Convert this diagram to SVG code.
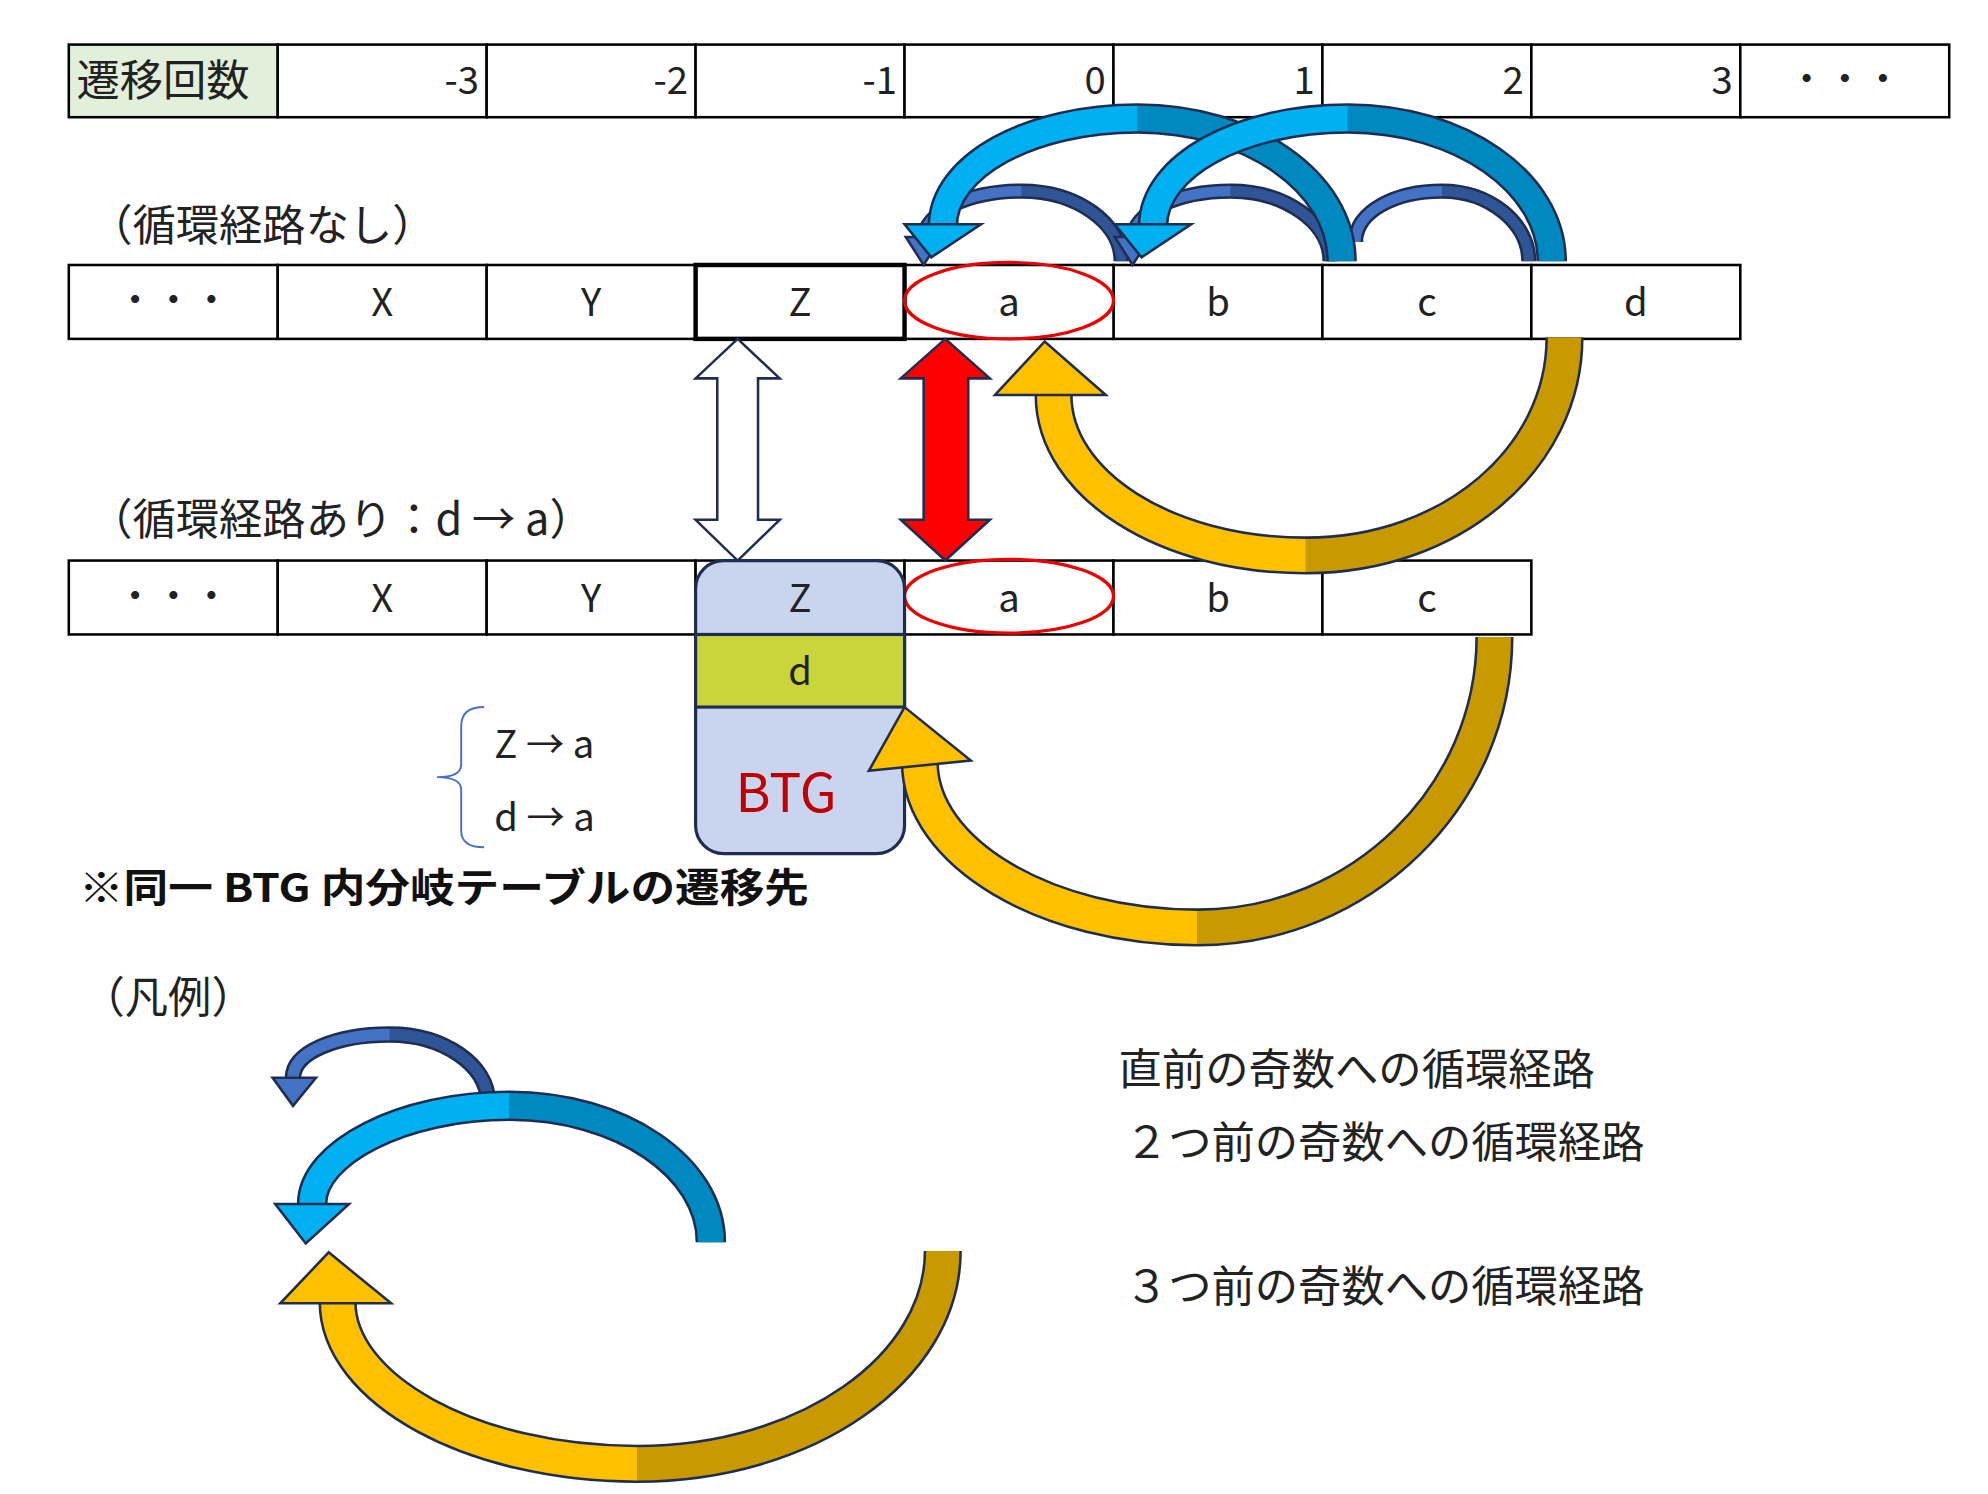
<svg xmlns="http://www.w3.org/2000/svg" width="1988" height="1494" viewBox="0 0 1988 1494">
<style>
.c{fill:#fff;stroke:#000;stroke-width:2}
.t{font-family:"Noto Sans CJK JP","Liberation Sans",sans-serif;font-size:30px;fill:#222}
.j{font-size:34px}
.m{text-anchor:middle}
.r{text-anchor:end}
.o{fill:none;stroke:#1F2D50}
.db{fill:none;stroke:#2F5597}
.lb{fill:none;stroke:#4472C4}
.dc{fill:none;stroke:#0088C0}
.lc{fill:none;stroke:#00B0F0}
.dy{fill:none;stroke:#C99A00}
.ly{fill:none;stroke:#FFC000}
</style>
<rect width="1988" height="1494" fill="#fff"/>
<g transform="scale(1.274)">
<g id="header">
<rect x="54" y="35" width="164" height="57" fill="#E2EFDA" stroke="#000" stroke-width="2"/>
<text class="t j" x="60" y="75">遷移回数</text>
<rect class="c" x="218" y="35" width="164" height="57"/><text class="t r" x="376" y="74">-3</text>
<rect class="c" x="382" y="35" width="164" height="57"/><text class="t r" x="540" y="74">-2</text>
<rect class="c" x="546" y="35" width="164" height="57"/><text class="t r" x="704" y="74">-1</text>
<rect class="c" x="710" y="35" width="164" height="57"/><text class="t r" x="868" y="74">0</text>
<rect class="c" x="874" y="35" width="164" height="57"/><text class="t r" x="1032" y="74">1</text>
<rect class="c" x="1038" y="35" width="164" height="57"/><text class="t r" x="1196" y="74">2</text>
<rect class="c" x="1202" y="35" width="164" height="57"/><text class="t r" x="1360" y="74">3</text>
<rect class="c" x="1366" y="35" width="164" height="57"/><text class="t m" x="1448" y="72">・・・</text>
</g>
<text class="t j" x="70" y="189">（循環経路なし）</text>
<g id="row1">
<rect class="c" x="54" y="208" width="164" height="58"/><text class="t m" x="136" y="246">・・・</text>
<rect class="c" x="218" y="208" width="164" height="58"/><text class="t m" x="300" y="248">X</text>
<rect class="c" x="382" y="208" width="164" height="58"/><text class="t m" x="464" y="248">Y</text>
<rect class="c" x="874" y="208" width="164" height="58"/><text class="t m" x="956" y="248">b</text>
<rect class="c" x="1038" y="208" width="164" height="58"/><text class="t m" x="1120" y="248">c</text>
<rect class="c" x="1202" y="208" width="164" height="58"/><text class="t m" x="1284" y="248">d</text>
<rect class="c" x="710" y="208" width="164" height="58"/>
<rect x="546" y="208" width="164" height="58" fill="#fff" stroke="#000" stroke-width="3.5"/><text class="t m" x="628" y="248">Z</text>
<ellipse cx="792" cy="236" rx="82" ry="30" fill="none" stroke="#E00" stroke-width="2.5"/>
<text class="t m" x="792" y="248">a</text>
</g>
<text class="t j" x="70" y="420">（循環経路あり：d → a）</text>
<g id="row2">
<rect class="c" x="54" y="440" width="164" height="58"/><text class="t m" x="136" y="478">・・・</text>
<rect class="c" x="218" y="440" width="164" height="58"/><text class="t m" x="300" y="480">X</text>
<rect class="c" x="382" y="440" width="164" height="58"/><text class="t m" x="464" y="480">Y</text>
<rect class="c" x="546" y="440" width="164" height="58"/>
<rect class="c" x="710" y="440" width="164" height="58"/>
<rect class="c" x="874" y="440" width="164" height="58"/><text class="t m" x="956" y="480">b</text>
<rect class="c" x="1038" y="440" width="164" height="58"/><text class="t m" x="1120" y="480">c</text>
<ellipse cx="792" cy="468" rx="82" ry="29" fill="none" stroke="#E00" stroke-width="2.5"/>
<text class="t m" x="792" y="480">a</text>
</g>
<g id="btg">
<rect x="546" y="440" width="164" height="230" rx="22" fill="#C9D5EE" stroke="#1F2D50" stroke-width="2.5"/>
<rect x="546" y="498" width="164" height="57" fill="#C9D53A" stroke="#1F2D50" stroke-width="2.5"/>
<text class="t m" x="628" y="480">Z</text>
<text class="t m" x="628" y="538">d</text>
<text class="m" x="617" y="637" style="font-family:'Noto Sans CJK JP',sans-serif;font-size:42px;fill:#C00000">BTG</text>
</g>
<g id="brace">
<path d="M380,555 Q362,555 362,570 L362,600 Q362,610 343,610 Q362,610 362,620 L362,652 Q362,665 380,665" fill="none" stroke="#4472C4" stroke-width="1.5"/>
<text class="t" x="388" y="595">Z → a</text>
<text class="t" x="388" y="652">d → a</text>
</g>
<text x="62" y="708" style="font-family:'Noto Sans CJK JP',sans-serif;font-size:31px;font-weight:bold;fill:#111" textLength="573" lengthAdjust="spacingAndGlyphs">※同一 BTG 内分岐テーブルの遷移先</text>
<text class="t j" x="64" y="795">（凡例）</text>
<g id="legend-text">
<text class="t j" x="878" y="852">直前の奇数への循環経路</text>
<text class="t j" x="883" y="909">２つ前の奇数への循環経路</text>
<text class="t j" x="883" y="1022">３つ前の奇数への循環経路</text>
</g>
<g id="connectors">
<polygon points="579,266 612,297 595,297 595,408 612,408 579,440 546,408 563,408 563,297 546,297" fill="#fff" stroke="#1F2D50" stroke-width="2"/>
<polygon points="742,266 777,297 760,297 760,408 777,408 742,440 707,408 725,408 725,297 707,297" fill="#F00" stroke="#1F2D50" stroke-width="2"/>
<!-- small dark blue arcs -->
<path class="o" stroke-width="12" d="M880,205 C880,175 845,150 802,150 C759,150 725,167 725,188"/>
<path class="db" stroke-width="8" d="M880,205 C880,175 845,150 802,150"/>
<path class="lb" stroke-width="8" d="M802,150 C759,150 725,167 725,188"/>
<polygon points="711,186 739,186 725,208" fill="#4472C4" stroke="#1F2D50" stroke-width="2"/>
<path class="o" stroke-width="12" d="M1044,205 C1044,175 1009,150 966,150 C923,150 889,167 889,188"/>
<path class="db" stroke-width="8" d="M1044,205 C1044,175 1009,150 966,150"/>
<path class="lb" stroke-width="8" d="M966,150 C923,150 889,167 889,188"/>
<polygon points="875,186 903,186 889,208" fill="#4472C4" stroke="#1F2D50" stroke-width="2"/>
<path class="o" stroke-width="12" d="M1200,205 C1200,175 1169,150 1132,150 C1095,150 1064,166 1064,190"/>
<path class="db" stroke-width="8" d="M1200,205 C1200,175 1169,150 1132,150"/>
<path class="lb" stroke-width="8" d="M1132,150 C1095,150 1064,166 1064,190"/>
<!-- big light blue arcs -->
<path class="o" stroke-width="24" d="M1053,205 C1053,143 981,93 893,93 C809,93 740,130 740,178"/>
<path class="dc" stroke-width="20" d="M1053,205 C1053,143 981,93 893,93"/>
<path class="lc" stroke-width="20" d="M893,93 C809,93 740,130 740,178"/>
<polygon points="710,176 770,176 731,202" fill="#00B0F0" stroke="#1F2D50" stroke-width="2"/>
<path class="o" stroke-width="24" d="M1218,205 C1218,143 1146,93 1058,93 C974,93 905,130 905,178"/>
<path class="dc" stroke-width="20" d="M1218,205 C1218,143 1146,93 1058,93"/>
<path class="lc" stroke-width="20" d="M1058,93 C974,93 905,130 905,178"/>
<polygon points="875,176 935,176 896,202" fill="#00B0F0" stroke="#1F2D50" stroke-width="2"/>
<!-- yellow arcs -->
<path class="o" stroke-width="30" d="M1228,265 C1228,359 1140,436 1025,436 C915,436 827,380 827,310"/>
<path class="dy" stroke-width="26" d="M1228,265 C1228,359 1140,436 1025,436"/>
<path class="ly" stroke-width="26" d="M1025,436 C915,436 827,380 827,310"/>
<polygon points="781,310 868,310 820,268" fill="#FFC000" stroke="#1F2D50" stroke-width="2"/>
<path class="o" stroke-width="30" d="M1173,500 C1173,625 1068,728 940,728 C822,728 722,670 722,598"/>
<path class="dy" stroke-width="26" d="M1173,500 C1173,625 1068,728 940,728"/>
<path class="ly" stroke-width="26" d="M940,728 C822,728 722,670 722,598"/>
<polygon points="682,605 762,597 710,555" fill="#FFC000" stroke="#1F2D50" stroke-width="2"/>
<!-- legend arcs -->
<path class="o" stroke-width="13" d="M383,865 C383,836 348,812 306,812 C264,812 230,826 230,846"/>
<path class="db" stroke-width="9" d="M383,865 C383,836 348,812 306,812"/>
<path class="lb" stroke-width="9" d="M306,812 C264,812 230,826 230,846"/>
<polygon points="214,846 248,846 230,868" fill="#4472C4" stroke="#1F2D50" stroke-width="2"/>
<path class="o" stroke-width="24" d="M558,975 C558,916 487,868 400,868 C315,868 245,905 245,945"/>
<path class="dc" stroke-width="20" d="M558,975 C558,916 487,868 400,868"/>
<path class="lc" stroke-width="20" d="M400,868 C315,868 245,905 245,945"/>
<polygon points="216,945 274,945 240,976" fill="#00B0F0" stroke="#1F2D50" stroke-width="2"/>
<path class="o" stroke-width="30" d="M740,982 C740,1074 633,1149 500,1149 C370,1149 265,1090 265,1022"/>
<path class="dy" stroke-width="26" d="M740,982 C740,1074 633,1149 500,1149"/>
<path class="ly" stroke-width="26" d="M500,1149 C370,1149 265,1090 265,1022"/>
<polygon points="220,1023 307,1023 258,983" fill="#FFC000" stroke="#1F2D50" stroke-width="2"/>
</g>
</g>
</svg>
